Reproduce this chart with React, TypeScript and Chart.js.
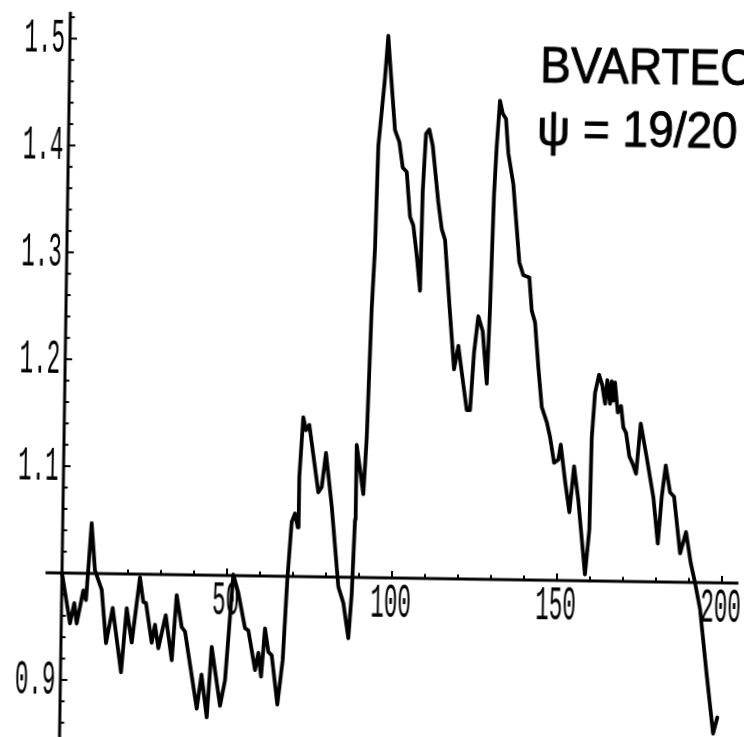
import React, { useEffect, useRef } from "react";
import { Chart, registerables } from "chart.js";

Chart.register(...registerables);

// Series: x (time index) and value
const X_VALUES = [
  0, 2.65, 3.86, 4.68, 6.53, 7.39, 8.77, 9.98, 12.11, 13.65,
  15.52, 18.33, 19.77, 21.44, 23.65, 24.77, 25.59, 27.5, 28.42, 29.52,
  31.62, 33.64, 34.86, 36.52, 37.54, 41.44, 42.73, 44.5, 45.7, 48.48,
  49.88, 51.92, 53.52, 55.7, 56.72, 58.93, 59.85, 60.78, 61.77, 62.88,
  63.92, 65.84, 67.27, 68.3, 69.37, 70.33, 71.22, 71.47, 72.41, 73.29,
  74.27, 77.3, 78.31, 79.45, 81.43, 83.79, 85.38, 87.05, 87.88, 88.55,
  88.72, 90.94, 91.72, 92.64, 93.37, 93.91, 94.78, 95.63, 96.44, 97.07,
  98.89, 100.25, 101.4, 102.63, 103.84, 104.87, 106.04, 107.2, 107.57, 108.31,
  109.29, 110.39, 112.34, 113.5, 114.55, 116.14, 117.86, 119.06, 120.75, 121.89,
  122.89, 123.85, 124.98, 126.38, 127.84, 128.49, 129.19, 129.79, 130.58, 131.46,
  132.48, 133.33, 134.99, 135.97, 137.16, 138.43, 140.26, 141.14, 142.2, 143.4,
  144.61, 146.19, 147.26, 148.59, 149.88, 150.54, 152.01, 153.45, 154.67, 156.12,
  158.45, 159.59, 159.9, 160.7, 161.83, 162.87, 163.78, 164.36, 165.29, 165.7,
  166.28, 166.7, 167.66, 168.64, 169.43, 170.27, 171.38, 172.44, 173.49, 174.68,
  176.66, 178.84, 180.38, 181.38, 182.45, 183.88, 185.11, 187.18, 188.9, 190.47,
  191.84, 193.5, 195.8, 198.0, 199.2,
];

const Y_VALUES = [
  1.0, 0.953, 0.972, 0.953, 0.984, 0.975, 1.047, 1.003, 0.985, 0.935,
  0.968, 0.908, 0.968, 0.936, 0.997, 0.974, 0.973, 0.936, 0.953, 0.931,
  0.962, 0.92, 0.981, 0.951, 0.947, 0.875, 0.907, 0.867, 0.933, 0.878,
  0.902, 1.001, 0.984, 0.951, 0.949, 0.912, 0.928, 0.906, 0.951, 0.929,
  0.926, 0.88, 0.922, 0.997, 1.051, 1.059, 1.046, 1.093, 1.149, 1.137,
  1.142, 1.079, 1.084, 1.116, 1.066, 0.991, 0.976, 0.943, 0.985, 1.054,
  1.124, 1.078, 1.131, 1.252, 1.308, 1.404, 1.436, 1.468, 1.507, 1.483,
  1.419, 1.408, 1.384, 1.38, 1.338, 1.33, 1.302, 1.269, 1.362, 1.416,
  1.42, 1.405, 1.352, 1.327, 1.317, 1.257, 1.196, 1.218, 1.182, 1.158,
  1.158, 1.212, 1.246, 1.232, 1.183, 1.254, 1.36, 1.406, 1.448, 1.436,
  1.431, 1.399, 1.37, 1.337, 1.297, 1.285, 1.283, 1.252, 1.241, 1.199,
  1.162, 1.148, 1.134, 1.11, 1.113, 1.127, 1.093, 1.064, 1.107, 1.075,
  1.006, 1.048, 1.134, 1.176, 1.193, 1.183, 1.166, 1.188, 1.166, 1.187,
  1.169, 1.186, 1.158, 1.164, 1.144, 1.139, 1.117, 1.11, 1.101, 1.148,
  1.116, 1.079, 1.036, 1.08, 1.109, 1.084, 1.08, 1.027, 1.047, 1.018,
  1.0, 0.975, 0.914, 0.859, 0.874,
];

// Axes / ticks
const X_LABEL_TICKS = [50, 100, 150, 200];
const Y_LABEL_TICKS = [0.9, 1.1, 1.2, 1.3, 1.4, 1.5];
const Y_LABEL_TEXT = ["0.9", "1.1", "1.2", "1.3", "1.4", "1.5"];
const X_AXIS_EXTENT = [-5, 205];
const Y_AXIS_EXTENT = [0.8, 1.525];
const X_MINOR_STEP = 10;
const Y_MINOR_STEP = 0.02;

const TITLE_LINES = ["BVARTEC", "\u03C8 = 19/20"];
const TITLE_POS_X = [142.6, 142.0];
const TITLE_POS_Y = [1.466, 1.407];

// View window of the scales
const X_MIN = -18.788;
const X_MAX = 206.667;
const Y_MIN = 0.8466;
const Y_MAX = 1.536;

const axesPlugin = {
  id: "mathAxes",
  afterDatasetsDraw(chart: any) {
    const { ctx } = chart;
    const xs = chart.scales.x;
    const ys = chart.scales.y;
    const x0 = xs.getPixelForValue(0);
    const y0 = ys.getPixelForValue(1);
    ctx.save();
    ctx.strokeStyle = "#000";
    ctx.fillStyle = "#000";
    ctx.lineCap = "butt";
    ctx.lineWidth = 3;
    ctx.beginPath();
    ctx.moveTo(xs.getPixelForValue(X_AXIS_EXTENT[0]), y0);
    ctx.lineTo(xs.getPixelForValue(X_AXIS_EXTENT[1]), y0);
    ctx.stroke();
    ctx.beginPath();
    ctx.moveTo(x0, ys.getPixelForValue(Y_AXIS_EXTENT[0]));
    ctx.lineTo(x0, ys.getPixelForValue(Y_AXIS_EXTENT[1]));
    ctx.stroke();

    // x ticks (pointing up)
    ctx.lineWidth = 2;
    for (let v = X_MINOR_STEP; v <= 200 + 1e-9; v += X_MINOR_STEP) {
      const px = xs.getPixelForValue(v);
      const major = X_LABEL_TICKS.includes(v);
      ctx.beginPath();
      ctx.moveTo(px, y0);
      ctx.lineTo(px, y0 - (major ? 7 : 4.5));
      ctx.stroke();
    }
    // y ticks (pointing right)
    for (let i = 0; ; i++) {
      const v = 0.86 + i * Y_MINOR_STEP;
      if (v > 1.5201) break;
      if (Math.abs(v - 1) < 1e-6) continue;
      const py = ys.getPixelForValue(v);
      const major = Y_LABEL_TICKS.some((t) => Math.abs(t - v) < 1e-6);
      ctx.beginPath();
      ctx.moveTo(x0, py);
      ctx.lineTo(x0 + (major ? 7 : 4.5), py);
      ctx.stroke();
    }

    // tick labels: condensed monospace
    const drawCondensed = (txt: string, px: number, py: number, align: CanvasTextAlign) => {
      ctx.save();
      ctx.translate(px, py);
      ctx.scale(0.47, 1);
      ctx.textAlign = align;
      ctx.textBaseline = "middle";
      ctx.fillText(txt, 0, 0);
      ctx.restore();
    };
    ctx.font = '48px "Liberation Mono"';
    Y_LABEL_TICKS.forEach((t, i) => {
      drawCondensed(Y_LABEL_TEXT[i], x0 - 5, ys.getPixelForValue(t) + 1, "right");
    });
    X_LABEL_TICKS.forEach((t) => {
      drawCondensed(String(t), xs.getPixelForValue(t) - 1, y0 + 26, "center");
    });

    // title
    ctx.font = '46px "Liberation Sans", Arial, sans-serif';
    ctx.textAlign = "left";
    ctx.textBaseline = "alphabetic";
    ctx.lineWidth = 0.9;
    ctx.lineJoin = "round";
    TITLE_LINES.forEach((line, i) => {
      ctx.save();
      ctx.translate(xs.getPixelForValue(TITLE_POS_X[i]), ys.getPixelForValue(TITLE_POS_Y[i]));
      ctx.scale(1, 1.07);
      ctx.fillText(line, 0, 0);
      ctx.strokeText(line, 0, 0);
      ctx.restore();
    });
    ctx.restore();
  },
};

export default function App() {
  const canvasRef = useRef<HTMLCanvasElement | null>(null);

  useEffect(() => {
    const canvas = canvasRef.current;
    if (!canvas) return;
    const points = X_VALUES.map((x, i) => ({ x, y: Y_VALUES[i] }));
    const chart = new Chart(canvas, {
      type: "line",
      data: {
        datasets: [
          {
            data: points,
            borderColor: "#000",
            borderWidth: 3.8,
            pointRadius: 0,
            tension: 0,
            fill: false,
            borderJoinStyle: "round",
            borderCapStyle: "round",
          },
        ],
      },
      options: {
        animation: false,
        responsive: false,
        maintainAspectRatio: false,
        devicePixelRatio: 1,
        layout: { padding: 0 },
        parsing: false as any,
        plugins: {
          legend: { display: false },
          tooltip: { enabled: false },
          title: { display: false },
        },
        scales: {
          x: { type: "linear", min: X_MIN, max: X_MAX, display: false },
          y: { type: "linear", min: Y_MIN, max: Y_MAX, display: false },
        },
      },
      plugins: [axesPlugin],
    });
    return () => chart.destroy();
  }, []);

  return (
    <div
      style={{
        position: "fixed",
        left: 0,
        top: 0,
        width: 744,
        height: 737,
        overflow: "hidden",
        background: "#fff",
      }}
    >
      <canvas
        ref={canvasRef}
        width={744}
        height={737}
        style={{
          display: "block",
          width: 744,
          height: 737,
          transform: "rotate(0.86deg)",
          transformOrigin: "62px 573px",
        }}
      />
    </div>
  );
}
